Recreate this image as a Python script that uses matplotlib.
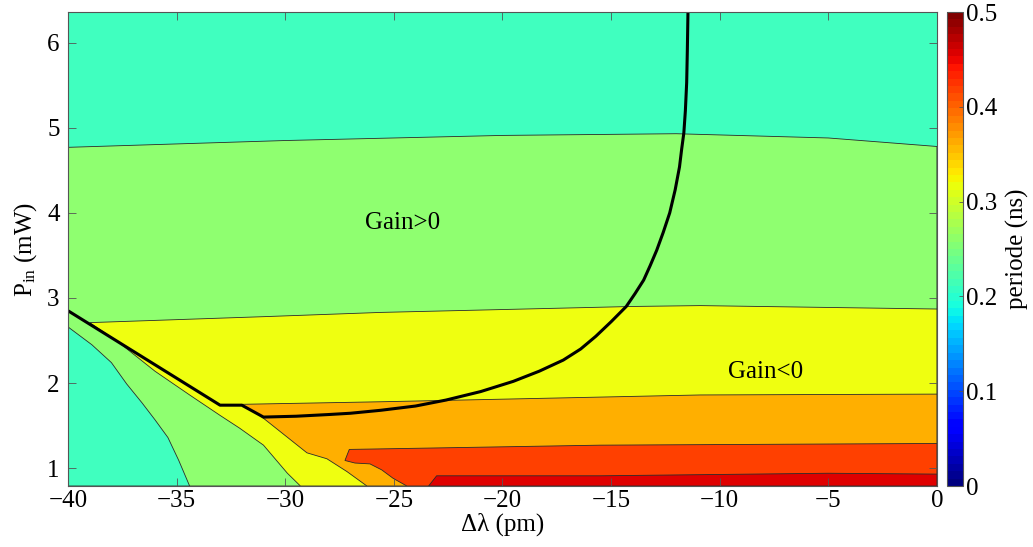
import matplotlib
matplotlib.use("Agg")
import matplotlib.pyplot as plt
from matplotlib.cm import ScalarMappable
from matplotlib.colors import Normalize

plt.rcParams["font.family"] = ["Liberation Serif", "DejaVu Serif"]
plt.rcParams["mathtext.fontset"] = "custom"
plt.rcParams["mathtext.rm"] = "Liberation Serif"
plt.rcParams["mathtext.it"] = "Liberation Serif:italic"

# ---- data (delta lambda in pm, P_in in mW) --------------------------------
X_LIM = (-40, 0)
Y_LIM = (0.79, 6.36)

# band fill colours (jet, period levels ~0.2 ... 0.45 ns)
band_colors = ["#40FFBF", "#8FFF70", "#EFFF10", "#FFAF00", "#FF4000", "#DF0000"]

# upper cyan / green boundary
b1_x = [-40, -30, -20, -12, -5, 0]
b1_y = [4.77, 4.85, 4.91, 4.93, 4.88, 4.78]

# lower-left cyan / green boundary
cyan_x = [-40, -38.9, -38.0, -37.3, -36.6, -36.0, -35.4, -34.9, -34.4]
cyan_y = [2.66, 2.45, 2.24, 1.99, 1.77, 1.57, 1.36, 1.09, 0.79]

# green / yellow boundary (top), then lower-left edge of the yellow band
b2_x = [-39.0, -31.0, -25.6, -14.0, -10.9, 0]
b2_y = [2.71, 2.78, 2.83, 2.90, 2.91, 2.87]
yl_x = [-37.7, -36.0, -34.4, -33.0, -32.1, -31.0, -29.9, -29.3]
yl_y = [2.485, 2.14, 1.86, 1.62, 1.47, 1.27, 0.94, 0.79]

# yellow / orange boundary (top), then diagonal edge of the orange band
b3_x = [-32.0, -25.6, -10.9, 0]
b3_y = [1.75, 1.78, 1.86, 1.87]
or_x = [-32.0, -31.07, -30.33, -29.0, -28.08, -27.16, -26.24]
or_y = [1.75, 1.60, 1.45, 1.18, 1.11, 0.96, 0.79]

# orange / red-orange boundary (top), then its lower-left edge
b4_x = [-27.05, -15.5, 0]
b4_y = [1.22, 1.27, 1.29]
ro_x = [-27.05, -27.25, -26.79, -26.1, -25.56, -25.03, -24.4]
ro_y = [1.22, 1.09, 1.06, 1.05, 0.98, 0.88, 0.79]

# red-orange / red boundary
b5_x = [-23.4, -23.03, -15.5, -5, 0]
b5_y = [0.79, 0.91, 0.91, 0.94, 0.93]

# gain = 0 curve
gain_x = [-40, -33.0, -32.0, -31.0, -29.5, -28.0, -27.0, -25.6, -24.0, -22.6,
          -21.0, -19.5, -18.3, -17.2, -16.4, -15.7, -15.0, -14.3, -13.9,
          -13.5, -13.2, -12.9, -12.6, -12.3, -12.05, -11.85, -11.75, -11.65,
          -11.58, -11.52, -11.49, -11.46]
gain_y = [2.85, 1.74, 1.74, 1.60, 1.61, 1.63, 1.645, 1.68, 1.73, 1.80,
          1.90, 2.02, 2.14, 2.27, 2.40, 2.55, 2.72, 2.90, 3.05,
          3.21, 3.38, 3.56, 3.77, 4.0, 4.27, 4.54, 4.75, 4.94,
          5.2, 5.53, 5.9, 6.36]

EDGE = "#2b2b2b"
SPINE = "#555555"

fig = plt.figure(figsize=(10.33, 5.47), dpi=100)
ax = fig.add_axes([0.0658, 0.1115, 0.8412, 0.8665])
cax = fig.add_axes([0.9167, 0.1115, 0.0160, 0.8665])

x0, x1 = X_LIM
y0, y1 = Y_LIM
ax.set_facecolor(band_colors[0])


def band(xs, ys, color):
    ax.fill(xs, ys, facecolor=color, edgecolor=EDGE, linewidth=0.6)


# green below the upper boundary
band(b1_x + [x1, x0], b1_y + [y0, y0], band_colors[1])
# cyan pocket in the lower-left corner
band(cyan_x + [x0], cyan_y + [y0], band_colors[0])
# yellow
band(b2_x + [x1] + yl_x[::-1], b2_y + [y0] + yl_y[::-1], band_colors[2])
# orange
band(b3_x + [x1] + or_x[::-1], b3_y + [y0] + or_y[::-1], band_colors[3])
# red-orange
band(b4_x + [x1] + ro_x[::-1], b4_y + [y0] + ro_y[::-1], band_colors[4])
# red
band(b5_x + [x1], b5_y + [y0], band_colors[5])

ax.plot(gain_x, gain_y, color="black", lw=2.2, solid_joinstyle="round")

ax.text(-24.6, 3.88, "Gain>0", fontsize=18, ha="center", va="center")
ax.text(-7.9, 2.13, "Gain<0", fontsize=18, ha="center", va="center")

ax.set_xlim(X_LIM)
ax.set_ylim(Y_LIM)
ax.set_xticks(range(-40, 1, 5))
ax.set_yticks(range(1, 7))
ax.set_xticklabels([f"{v}".replace("-", "\u2212") for v in range(-40, 1, 5)])
ax.tick_params(direction="in", top=True, right=True, length=6, width=0.6,
               color=SPINE, labelsize=18)
ax.tick_params(axis="x", pad=3)
ax.tick_params(axis="y", pad=6)
for s in ax.spines.values():
    s.set_color(SPINE)
    s.set_linewidth(0.8)

ax.set_xlabel("\u0394\u03bb (pm)", fontsize=18, labelpad=0)
ax.set_ylabel("P$_{\\rm in}$ (mW)", fontsize=18, labelpad=6)

sm = ScalarMappable(norm=Normalize(0, 0.5), cmap=plt.get_cmap("jet", 64))
cb = fig.colorbar(sm, cax=cax)
cb.set_ticks([0, 0.1, 0.2, 0.3, 0.4, 0.5])
cb.set_ticklabels(["0", "0.1", "0.2", "0.3", "0.4", "0.5"])
cb.ax.tick_params(direction="in", length=3, width=0.6, color=SPINE,
                  labelsize=18, pad=2)
cb.outline.set_edgecolor(SPINE)
cb.outline.set_linewidth(0.8)
cb.set_label("periode (ns)", fontsize=18, labelpad=6)

fig.savefig("out.png", dpi=100)
